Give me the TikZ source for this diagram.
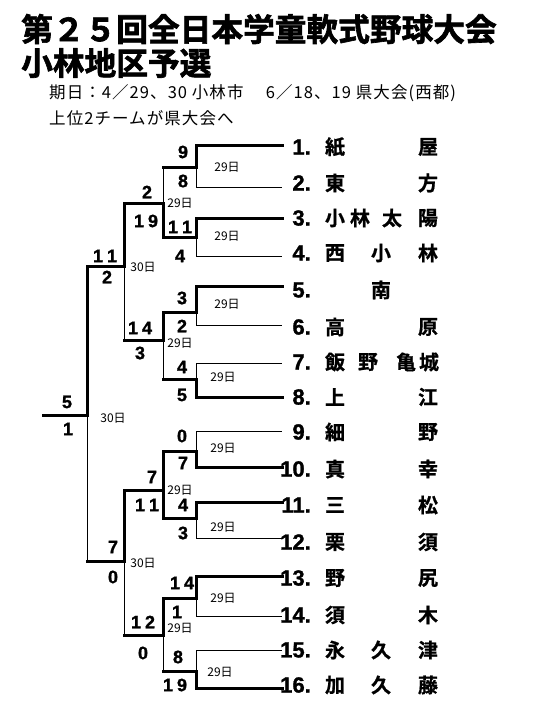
\documentclass[tikz,border=0pt]{standalone}
\usepackage{fontspec}
\setmainfont{Liberation Sans}
\newfontfamily\scf{Liberation Sans}[BoldFeatures={FakeBold=1.2}]
\newfontfamily\jp{Noto Sans CJK JP}
\newfontfamily\jpsub{Noto Sans CJK JP}[LetterSpace=6.5]
\newfontfamily\jpb{Noto Sans CJK JP Bold}[FakeBold=0.8]
\newfontfamily\jpt{Noto Sans CJK JP Bold}[FakeBold=2]
\newcommand\dd[2]{#1\hspace{4pt}#2}
\tikzset{
  thk/.style={line width=3pt, line cap=rect},
  thn/.style={line width=1pt},
  teamnum/.style={anchor=east, inner sep=0pt, font=\scf\bfseries\fontsize{22}{22}\selectfont},
  teamch/.style={inner sep=0pt, font=\jpb\fontsize{20}{20}\selectfont},
  score/.style={inner sep=0pt, font=\scf\bfseries\fontsize{18}{18}\selectfont},
  datelbl/.style={inner sep=0pt, font=\jp\fontsize{12}{12}\selectfont},
  titletxt/.style={anchor=west, inner sep=0pt, font=\jpt\fontsize{31.7}{31.7}\selectfont},
  subtxt/.style={anchor=west, inner sep=0pt, font=\jpsub\fontsize{16.5}{16.5}\selectfont},
}
\begin{document}
\begin{tikzpicture}[x=1pt,y=-1pt]
\useasboundingbox (0,0) rectangle (540,720);
\fill[white] (0,0) rectangle (540,720);

% titles
\node[titletxt] (title1) at (21,29) {第２５回全日本学童軟式野球大会};
\node[titletxt] (title2) at (21,63) {小林地区予選};
\node[subtxt] (sub1) at (49,93) {期日：4／29、30 小林市　 6／18、19 県大会(西都)};
\node[subtxt] (sub2) at (49,118) {上位2チームが県大会へ};

% coordinates
\foreach \y [count=\i] in {145,187,218,256,286,325,363,397,431,467,502,538,576,616,650,688}
  {\coordinate (s\i) at (196,\y); \coordinate (e\i) at (282,\y);}
\foreach \y [count=\k] in {167,237,312,379,451,518,598,671}
  {\coordinate (m\k) at (196,\y); \coordinate (p\k) at (163,\y);}
\foreach \y [count=\j] in {203,340,490,635}
  {\coordinate (q\j) at (163,\y); \coordinate (r\j) at (124,\y);}
\coordinate (u1) at (124,266); \coordinate (v1) at (87,266);
\coordinate (u2) at (124,561); \coordinate (v2) at (87,561);
\coordinate (f) at (87,415); \coordinate (w) at (43,415);

% thin lines
\foreach \i in {2,4,6,7,9,12,14,15} \draw[thn] (s\i) -- (e\i);
\draw[thn] (m1) -- (s2);
\draw[thn] (m2) -- (s4);
\draw[thn] (m3) -- (s6);
\draw[thn] (s7) -- (m4);
\draw[thn] (s9) -- (m5);
\draw[thn] (m6) -- (s12);
\draw[thn] (m7) -- (s14);
\draw[thn] (s15) -- (m8);
\draw[thn] (p1) -- (q1);
\draw[thn] (q2) -- (p4);
\draw[thn] (q4) -- (p8);
\draw[thn] (u1) -- (r2);
\draw[thn] (u2) -- (r4);
\draw[thn] (f) -- (v2);

% thick lines
\foreach \i in {1,3,5,8,10,11,13,16} \draw[thk] (s\i) -- (e\i);
\draw[thk] (s1) -- (m1);
\draw[thk] (s3) -- (m2);
\draw[thk] (s5) -- (m3);
\draw[thk] (m4) -- (s8);
\draw[thk] (m5) -- (s10);
\draw[thk] (s11) -- (m6);
\draw[thk] (s13) -- (m7);
\draw[thk] (m8) -- (s16);
\foreach \k in {1,...,8} \draw[thk] (p\k) -- (m\k);
\draw[thk] (q1) -- (p2);
\draw[thk] (p3) -- (q2);
\draw[thk] (p5) -- (q3) -- (p6);
\draw[thk] (p7) -- (q4);
\foreach \j in {1,...,4} \draw[thk] (r\j) -- (q\j);
\draw[thk] (r1) -- (u1);
\draw[thk] (r3) -- (u2);
\draw[thk] (v1) -- (u1);
\draw[thk] (v2) -- (u2);
\draw[thk] (v1) -- (f);
\draw[thk] (w) -- (f);

% scores
\foreach \x/\y/\t [count=\n] in {
  183/152/9, 183/181/8, 180/227/\dd11, 180/256/4,
  147/192/2, 146/221/\dd19, 105/256/\dd11, 107/277/2,
  67/402/5, 68/429/1,
  182/298/3, 182/326/2, 140/328/\dd14, 140/353/3, 182/367/4, 182/395/5,
  182/436/0, 183/463/7, 152/477/7, 147/505/\dd11, 183/505/4, 183/533/3,
  113/547/7, 113/577/0, 143/622/\dd12, 143/653/0,
  182/583/\dd14, 177/612/1, 178/657/8, 175/685/\dd19}
  \node[score] (sc\n) at (\x,\y) {\t};

% dates
\foreach \x/\y/\t [count=\n] in {
  227/167/29, 227/236/29, 227/304/29, 223/377/29, 223/448/29, 223/527/29,
  223/598/29, 220/672/29, 180/203/29, 180/343/29, 180/490/29, 180/628/29,
  143/267/30, 143/563/30, 113/418/30}
  \node[datelbl] (dt\n) at (\x,\y) {\t 日};

% team numbers
\foreach \y [count=\n] in {147,183,218,253,290,327,362,397,432,469,505,542,578,615,650,685}
  \node[teamnum] (no\n) at (311,\y) {\n.};

% team names
\foreach \x/\y/\c [count=\n] in {
  335/147/紙, 428/147/屋,
  335/183/東, 428/183/方,
  335/218/小, 360/218/林, 392/218/太, 428/218/陽,
  335/253/西, 381/253/小, 428/253/林,
  381/290/南,
  335/327/高, 428/327/原,
  335/362/飯, 368/362/野, 406/362/亀, 429/362/城,
  335/397/上, 428/397/江,
  335/432/細, 428/432/野,
  335/469/真, 428/469/幸,
  335/505/三, 428/505/松,
  335/542/栗, 428/542/須,
  335/578/野, 428/578/尻,
  335/615/須, 428/615/木,
  335/650/永, 381/650/久, 428/650/津,
  335/685/加, 381/685/久, 428/685/藤}
  \node[teamch] (ch\n) at (\x,\y) {\c};
\end{tikzpicture}
\end{document}
